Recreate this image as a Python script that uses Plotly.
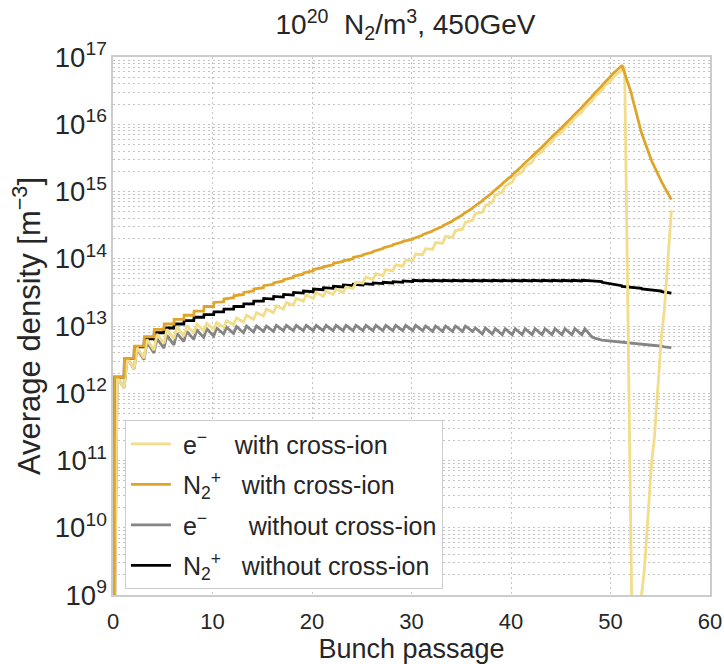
import plotly.graph_objects as go

# ---------------- data (log10 of density in m^-3) ----------------
bunch = list(range(56))          # bunch passages 0..55
bunch_offset = 0.12              # passage time inside each bunch slot
start_log = 8.0                  # all curves come up from below the axis at the first passage

# N2+ with cross-ion: level just after bunch n, and just before bunch n+1
ion_cross_after = [12.24, 12.52, 12.70, 12.84, 12.95, 13.03, 13.10, 13.16, 13.22, 13.29,
                   13.35, 13.40, 13.45, 13.50, 13.55, 13.60, 13.64, 13.69, 13.74, 13.79,
                   13.84, 13.88, 13.93, 13.97, 14.02, 14.06, 14.11, 14.16, 14.21, 14.26,
                   14.30, 14.36, 14.42, 14.49, 14.57, 14.66, 14.76, 14.87, 14.99, 15.12,
                   15.25, 15.39, 15.53, 15.67, 15.82, 15.96, 16.11, 16.26, 16.42, 16.58,
                   16.74, 16.88, 16.42, 15.86, 15.45, 15.14]
ion_cross_before = [12.24, 12.52, 12.70, 12.84, 12.95, 13.03, 13.10, 13.16, 13.22, 13.29,
                    13.36, 13.42, 13.47, 13.52, 13.57, 13.62, 13.67, 13.72, 13.77, 13.82,
                    13.87, 13.91, 13.96, 14.00, 14.05, 14.10, 14.15, 14.20, 14.25, 14.29,
                    14.35, 14.41, 14.48, 14.56, 14.65, 14.75, 14.86, 14.98, 15.11, 15.24,
                    15.38, 15.52, 15.66, 15.81, 15.95, 16.10, 16.25, 16.41, 16.57, 16.73,
                    16.87, 16.45, 15.87, 15.46, 15.15, 14.88]

# e- with cross-ion: peak just after bunch n, trough just before bunch n+1
e_cross_peak = [12.24, 12.52, 12.68, 12.80, 12.88, 12.95, 12.99, 13.01, 13.03, 13.04,
                13.05, 13.08, 13.12, 13.16, 13.20, 13.25, 13.30, 13.35, 13.41, 13.46,
                13.50, 13.52, 13.55, 13.58, 13.65, 13.73, 13.78, 13.84, 13.91, 13.98,
                14.07, 14.15, 14.24, 14.33, 14.42, 14.54, 14.67, 14.79, 14.94, 15.08,
                15.23, 15.37, 15.52, 15.66, 15.81, 15.95, 16.10, 16.25, 16.41, 16.57,
                16.72, 16.86, 7.60, 9.40, 11.35, 13.25]
e_cross_trough = [12.08, 12.36, 12.52, 12.64, 12.74, 12.81, 12.85, 12.89, 12.93, 12.95,
                  12.98, 13.02, 13.06, 13.10, 13.15, 13.20, 13.25, 13.31, 13.37, 13.41,
                  13.44, 13.47, 13.50, 13.56, 13.64, 13.69, 13.75, 13.82, 13.89, 13.97,
                  14.06, 14.14, 14.23, 14.32, 14.44, 14.57, 14.69, 14.84, 14.99, 15.14,
                  15.29, 15.44, 15.59, 15.74, 15.88, 16.03, 16.18, 16.34, 16.50, 16.66,
                  16.80, 9.05, 9.00, 10.95, 12.85, 14.72]

# e- without cross-ion
e_nocross_peak = [12.24, 12.52, 12.66, 12.76, 12.81, 12.86, 12.89, 12.92, 12.94, 12.96,
                  12.97, 12.98, 12.99, 13.00, 13.00, 13.00, 13.01, 13.01, 13.01, 13.01,
                  13.01, 13.01, 13.01, 13.01, 13.01, 13.01, 13.01, 13.01, 13.01, 13.01,
                  13.01, 13.00, 13.00, 13.00, 13.00, 13.00, 12.97, 12.97, 12.96, 12.96,
                  12.96, 12.96, 12.96, 12.96, 12.96, 12.96, 12.96, 12.96, 12.82, 12.785,
                  12.77, 12.75, 12.735, 12.72, 12.71, 12.69]
e_nocross_trough = [12.08, 12.36, 12.50, 12.60, 12.67, 12.72, 12.77, 12.80, 12.83, 12.85,
                    12.88, 12.89, 12.90, 12.91, 12.92, 12.92, 12.93, 12.93, 12.93, 12.93,
                    12.93, 12.93, 12.93, 12.93, 12.93, 12.93, 12.93, 12.93, 12.93, 12.93,
                    12.93, 12.92, 12.92, 12.92, 12.92, 12.92, 12.88, 12.88, 12.87, 12.87,
                    12.87, 12.87, 12.87, 12.87, 12.87, 12.87, 12.87, 12.84, 12.79, 12.775,
                    12.76, 12.74, 12.73, 12.715, 12.70, 12.68]

# N2+ without cross-ion
ion_nocross_after = [12.24, 12.52, 12.69, 12.81, 12.90, 12.97, 13.03, 13.08, 13.13, 13.17,
                     13.21, 13.25, 13.29, 13.33, 13.37, 13.41, 13.44, 13.47, 13.50, 13.52,
                     13.55, 13.57, 13.59, 13.61, 13.62, 13.63, 13.64, 13.65, 13.66, 13.67,
                     13.68, 13.68, 13.68, 13.68, 13.68, 13.68, 13.68, 13.68, 13.68, 13.68,
                     13.68, 13.68, 13.68, 13.68, 13.68, 13.68, 13.68, 13.68, 13.67, 13.65,
                     13.62, 13.59, 13.57, 13.55, 13.53, 13.51]
ion_nocross_before = [12.24, 12.52, 12.69, 12.81, 12.90, 12.97, 13.03, 13.08, 13.13, 13.17,
                      13.21, 13.25, 13.29, 13.33, 13.37, 13.40, 13.43, 13.46, 13.49, 13.51,
                      13.54, 13.56, 13.58, 13.60, 13.61, 13.62, 13.63, 13.64, 13.65, 13.66,
                      13.67, 13.67, 13.67, 13.67, 13.67, 13.67, 13.67, 13.67, 13.67, 13.67,
                      13.67, 13.67, 13.67, 13.67, 13.67, 13.67, 13.67, 13.67, 13.66, 13.63,
                      13.60, 13.58, 13.56, 13.54, 13.52, 13.49]

x_ticks = [0, 10, 20, 30, 40, 50, 60]
NB = "\u00a0"
names = [NB + "e<sup>−</sup>" + NB * 4 + "with cross-ion",
         NB + "N<sub>2</sub><sup>+</sup>" + NB * 3 + "with cross-ion",
         NB + "e<sup>−</sup>" + NB * 6 + "without cross-ion",
         NB + "N<sub>2</sub><sup>+</sup>" + NB * 3 + "without cross-ion"]
colors = ["#F1DD8A", "#DFA42A", "#858585", "#000000"]


def build(after, before, rise):
    xs = [bunch_offset]
    ys = [10 ** start_log]
    for n in bunch:
        xs += [n + bunch_offset + rise, n + 1 + bunch_offset]
        ys += [10 ** after[n], 10 ** before[n]]
    return xs, ys


series = [
    (e_cross_peak, e_cross_trough, 0.3),
    (ion_cross_after, ion_cross_before, 0.03),
    (e_nocross_peak, e_nocross_trough, 0.3),
    (ion_nocross_after, ion_nocross_before, 0.03),
]

FONT = "Liberation Sans, Arial, sans-serif"
TXT = "#262626"
fig = go.Figure()
draw_order = [2, 3, 0, 1]
for i in draw_order:
    a, b, r = series[i]
    xs, ys = build(a, b, r)
    fig.add_trace(go.Scatter(x=xs, y=ys, mode="lines", name=names[i],
                             line=dict(color=colors[i], width=2.8),
                             legendrank=i + 1, legendgroup=str(i)))

grid = dict(gridcolor="#c4c4c4", griddash="1.5px,3.5px", gridwidth=1.2)
fig.update_xaxes(range=[0, 60], tickvals=x_ticks, showgrid=True, **grid,
                 showline=True, mirror=True, linecolor="#cccccc", linewidth=1.5,
                 zeroline=False, ticks="outside", ticklen=6, tickcolor="rgba(0,0,0,0)",
                 automargin=False,
                 tickfont=dict(family=FONT, size=22, color=TXT),
                 title=dict(text="Bunch passage", font=dict(family=FONT, size=27, color=TXT),
                            standoff=6))
fig.update_yaxes(type="log", range=[9, 17], dtick=1, exponentformat="power",
                 showgrid=True, **grid,
                 minor=dict(dtick="D1", showgrid=True, ticks="", **grid),
                 showline=True, mirror=True, linecolor="#cccccc", linewidth=1.5,
                 zeroline=False, ticks="", automargin=False,
                 tickfont=dict(family=FONT, size=22, color=TXT),
                 title=dict(text="Average density [m<sup>−3</sup>]",
                            font=dict(family=FONT, size=31, color=TXT), standoff=5))

fig.update_layout(
    width=724, height=664,
    margin=dict(l=113, r=14, t=57, b=69),
    plot_bgcolor="white", paper_bgcolor="white",
    title=dict(text="10<sup>20</sup>\u00a0\u00a0N<sub>2</sub>/m<sup>3</sup>, 450GeV",
               x=0.49, xref="paper", xanchor="center", y=0.963, yanchor="middle",
               font=dict(family=FONT, size=28, color=TXT)),
    legend=dict(x=0.02, y=0.325, xanchor="left", yanchor="top",
                bgcolor="white", bordercolor="#cccccc", borderwidth=1,
                font=dict(family=FONT, size=25, color=TXT),
                tracegroupgap=5, itemwidth=40),
    showlegend=True,
)

fig.write_html("out.html")
